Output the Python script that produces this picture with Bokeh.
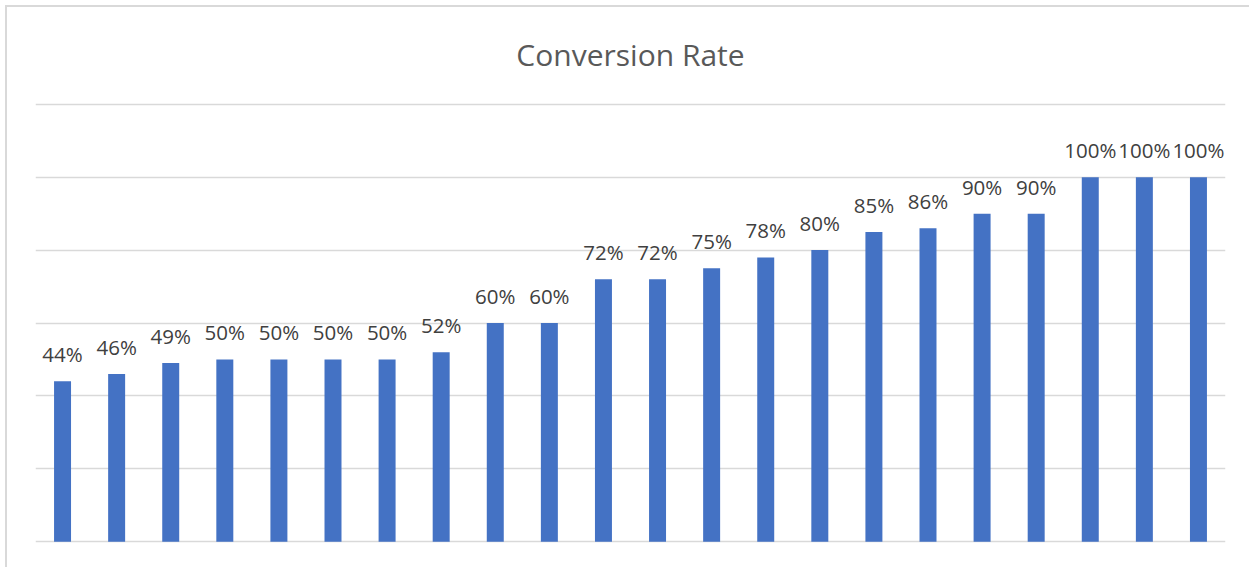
from bokeh.plotting import figure
from bokeh.models import ColumnDataSource, FixedTicker, Range1d
from bokeh.core.properties import value
from bokeh.embed import file_html
from bokeh.resources import INLINE

items = ["1", "2", "3", "4", "5", "6", "7", "8", "9", "10", "11",
         "12", "13", "14", "15", "16", "17", "18", "19", "20", "21", "22"]
rates = [0.44, 0.46, 0.49, 0.50, 0.50, 0.50, 0.50, 0.52, 0.60, 0.60, 0.72,
         0.72, 0.75, 0.78, 0.80, 0.85, 0.86, 0.90, 0.90, 1.00, 1.00, 1.00]
y_ticks = [0, 0.2, 0.4, 0.6, 0.8, 1.0, 1.2]

labels = [f"{round(r * 100)}%" for r in rates]
src = ColumnDataSource(dict(x=items, top=rates, label=labels))

p = figure(width=1244, height=562, x_range=items, y_range=Range1d(-0.005, 1.205),
           output_backend="svg", toolbar_location=None,
           min_border_left=28, min_border_right=26,
           min_border_top=95, min_border_bottom=26)
p.margin = (5, 0, 0, 5)
p.styles = {"border-left": "2px solid #d9d9d9", "border-top": "2px solid #d9d9d9"}

p.title.text = "Conversion Rate"
p.title.align = "center"
p.title.vertical_align = "top"
p.title.text_font = "Open Sans"
p.title.text_font_size = "30px"
p.title.text_font_style = "normal"
p.title.text_color = "#595959"
p.title.standoff = 51

p.vbar(x="x", top="top", width=0.314, bottom=0, source=src,
       fill_color="#4472C4", line_color=None)
p.text(x="x", y="top", text="label", source=src, text_align="center",
       text_baseline="alphabetic", y_offset=-27,
       text_font=value("Open Sans"), text_font_size="20.5px",
       text_color="#404040")

p.xaxis.visible = False
p.yaxis.visible = False
p.xgrid.visible = False
p.yaxis.ticker = FixedTicker(ticks=y_ticks)
p.ygrid.ticker = FixedTicker(ticks=y_ticks)
p.ygrid.grid_line_color = "#d9d9d9"
p.ygrid.grid_line_width = 1.5
p.ygrid.level = "underlay"
p.outline_line_color = None
p.background_fill_color = "white"
p.border_fill_color = "white"

open("out.html", "w").write(file_html(p, INLINE))
